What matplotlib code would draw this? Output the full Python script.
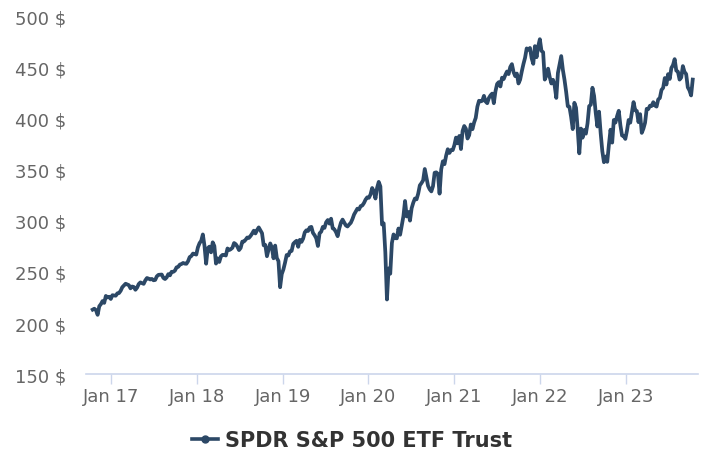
import matplotlib
matplotlib.use("Agg")
import matplotlib.pyplot as plt
import matplotlib.dates as mdates
import pandas as pd

# Cierres semanales (USD), uno por viernes, agrupados por año
close_2016 = [213.1, 214.0, 212.5, 208.0, 216.4, 218.5, 221.5, 219.7, 226.5, 225.0,
              225.7, 223.5]
close_2017 = [227.2, 227.0, 226.7, 229.0, 229.3, 231.5, 235.0, 236.7, 238.4, 237.7,
              237.0, 233.9, 235.7, 235.2, 232.5, 234.6, 238.1, 239.7, 239.0, 238.3,
              241.7, 244.0, 243.4, 242.6, 243.1, 241.8, 242.1, 245.6, 247.1, 247.3,
              247.4, 244.1, 243.0, 244.6, 247.8, 246.6, 250.1, 250.0, 251.2, 254.4,
              254.9, 257.1, 257.7, 258.7, 258.1, 257.9, 260.4, 264.5, 265.5, 267.9,
              267.5, 266.9]
close_2018 = [274.0, 278.1, 280.4, 286.6, 275.5, 258.0, 273.1, 274.7, 269.1, 278.9,
              275.3, 258.1, 263.2, 259.7, 265.2, 266.6, 266.6, 266.0, 272.9, 271.3,
              272.2, 273.6, 278.2, 277.1, 274.7, 271.3, 273.4, 279.6, 279.7, 281.4,
              283.6, 283.2, 285.1, 287.5, 290.3, 287.6, 290.9, 293.5, 290.7, 287.8,
              276.0, 276.3, 265.3, 271.9, 277.8, 273.7, 263.3, 275.7, 263.6, 260.5,
              235.0, 247.8]
close_2019 = [252.4, 259.0, 266.5, 266.0, 270.1, 270.5, 277.4, 279.1, 280.4, 274.5,
              281.3, 279.3, 282.5, 288.6, 290.7, 290.0, 293.4, 294.0, 288.1, 285.8,
              282.8, 275.3, 287.7, 289.3, 294.0, 293.0, 298.5, 300.7, 297.2, 302.0,
              292.6, 291.6, 288.9, 284.9, 292.5, 298.1, 301.1, 298.3, 295.4, 294.4,
              296.3, 298.0, 301.6, 306.1, 309.0, 311.8, 311.0, 314.3, 314.9, 317.3,
              320.7, 322.9]
close_2020 = [322.4, 325.7, 332.0, 328.8, 321.7, 332.2, 338.0, 333.5, 296.3, 297.5,
              269.3, 223.0, 253.4, 248.2, 278.2, 286.6, 283.0, 282.8, 292.4, 286.3,
              295.4, 304.3, 319.3, 304.2, 308.6, 300.1, 312.2, 317.6, 321.7, 320.9,
              326.5, 334.6, 336.8, 339.5, 350.6, 342.6, 334.1, 330.7, 328.7, 333.8,
              346.9, 347.3, 345.8, 326.5, 350.2, 358.1, 355.3, 363.7, 369.9, 366.3,
              369.2, 369.0]
close_2021 = [373.9, 381.3, 375.7, 382.9, 370.1, 387.7, 392.6, 390.0, 380.4, 383.6,
              394.1, 389.5, 396.0, 400.6, 411.5, 417.3, 416.7, 417.3, 422.1, 416.6,
              414.9, 420.0, 422.6, 424.3, 414.9, 426.6, 433.7, 435.5, 431.3, 439.9,
              438.5, 442.5, 445.9, 443.4, 450.3, 453.1, 445.4, 441.4, 443.9, 434.2,
              437.9, 445.9, 453.1, 459.3, 468.5, 467.3, 468.9, 459.0, 453.4, 470.7,
              459.9, 470.6, 477.5]
close_2022 = [466.1, 464.7, 438.0, 442.0, 448.7, 440.5, 434.2, 437.8, 432.2, 420.1,
              444.5, 452.7, 461.0, 447.6, 437.8, 426.0, 412.0, 411.3, 401.7, 389.6,
              415.3, 410.5, 389.8, 365.9, 390.1, 381.2, 388.7, 385.1, 395.1, 412.0,
              413.5, 430.0, 422.1, 405.3, 392.2, 406.6, 385.6, 368.0, 357.2, 362.8,
              357.6, 374.3, 389.0, 376.4, 398.5, 396.0, 402.3, 407.5, 393.3, 383.3,
              382.9, 380.0]
close_2023 = [388.1, 398.5, 395.9, 405.7, 416.0, 408.0, 407.3, 396.4, 404.2, 385.9,
              390.0, 395.8, 409.4, 409.2, 412.5, 412.2, 415.9, 412.6, 411.6, 418.6,
              420.0, 427.9, 429.9, 439.5, 433.2, 443.3, 438.6, 449.3, 452.2, 458.0,
              446.8, 445.7, 438.0, 440.0, 451.2, 445.5, 443.4, 430.4, 427.5, 422.5,
              438.0]

first_friday = ["2016-10-14", "2017-01-06", "2018-01-05", "2019-01-04",
                "2020-01-03", "2021-01-01", "2022-01-07", "2023-01-06"]
yearly = [close_2016, close_2017, close_2018, close_2019,
          close_2020, close_2021, close_2022, close_2023]

y_ticks = [150, 200, 250, 300, 350, 400, 450, 500]
series_name = "SPDR S&P 500 ETF Trust"

# Serie completa
serie = pd.concat([
    pd.Series(vals, index=pd.date_range(start, periods=len(vals), freq="W-FRI"))
    for start, vals in zip(first_friday, yearly)
])

line_color = "#2c4866"
axis_color = "#ccd6eb"
label_color = "#666666"

fig = plt.figure(figsize=(7.04, 4.52), dpi=100)
ax = fig.add_axes([0.122, 0.170, 0.870, 0.792])

ax.plot(serie.index, serie.values, color=line_color, linewidth=2.7,
        solid_joinstyle="round", label=series_name)

# Ejes
ax.set_ylim(150, 500)
ax.set_yticks(y_ticks)
ax.set_yticklabels([f"{v} $" for v in y_ticks])
ax.set_xlim(pd.Timestamp("2016-09-15"), pd.Timestamp("2023-11-06"))
ax.xaxis.set_major_locator(mdates.YearLocator(month=1, day=1))
ax.xaxis.set_major_formatter(mdates.DateFormatter("%b %y"))

for side in ("left", "top", "right"):
    ax.spines[side].set_visible(False)
ax.spines["bottom"].set_color(axis_color)
ax.spines["bottom"].set_linewidth(1.2)

ax.tick_params(axis="y", length=0, pad=14, labelsize=13, labelcolor=label_color)
ax.tick_params(axis="x", length=7.5, width=1, color=axis_color, pad=1.5,
               labelsize=13, labelcolor=label_color)

# Leyenda centrada bajo el gráfico
leg = ax.legend(loc="center", bbox_to_anchor=(0.5, 0.024), bbox_transform=fig.transFigure,
                frameon=False, handlelength=1.25, handletextpad=0.3,
                prop={"weight": "bold", "size": 15})
for h in leg.legend_handles:
    h.set_marker("o")
    h.set_markersize(5)
    h.set_linewidth(2.6)
for t in leg.get_texts():
    t.set_color("#333333")

fig.savefig("out.png", dpi=100)
